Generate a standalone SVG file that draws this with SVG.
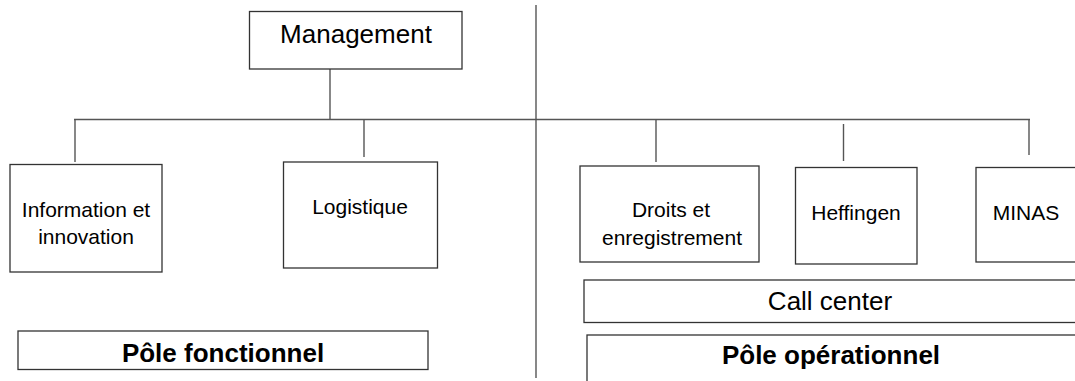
<svg xmlns="http://www.w3.org/2000/svg" width="1075" height="381" viewBox="0 0 1075 381">
<style>
.box{fill:#fff;stroke:#333;stroke-width:1.3}
.ln{stroke:#555;stroke-width:1.4;fill:none}
.t{font-family:"Liberation Sans",Arial,sans-serif;font-size:21px;fill:#000;text-anchor:middle}
.b{font-weight:bold;font-size:26px}
</style>
<rect width="1075" height="381" fill="#fff"/>
<g id="connectors">
<line class="ln" x1="330" y1="69" x2="330" y2="119.5"/>
<line class="ln" x1="74" y1="119.5" x2="1030" y2="119.5"/>
<line class="ln" x1="536" y1="5" x2="536" y2="378"/>
<line class="ln" x1="75" y1="119.5" x2="75" y2="162"/>
<line class="ln" x1="364" y1="119.5" x2="364" y2="157"/>
<line class="ln" x1="656" y1="119.5" x2="656" y2="162"/>
<line class="ln" x1="843.5" y1="124" x2="843.5" y2="161"/>
<line class="ln" x1="1029" y1="119.5" x2="1029" y2="155"/>
</g>
<g id="management">
<rect class="box" x="249.5" y="11.5" width="212.5" height="57.5"/>
<text class="t" x="356" y="43" style="font-size:26px">Management</text>
</g>
<g id="information">
<rect class="box" x="10" y="164.5" width="152" height="107.5"/>
<text class="t" x="86" y="216.5">Information et</text>
<text class="t" x="86" y="244">innovation</text>
</g>
<g id="logistique">
<rect class="box" x="283.5" y="162" width="154" height="106"/>
<text class="t" x="360" y="214">Logistique</text>
</g>
<g id="droits">
<rect class="box" x="580" y="166" width="179" height="96"/>
<text class="t" x="671" y="217">Droits et</text>
<text class="t" x="672" y="245">enregistrement</text>
</g>
<g id="heffingen">
<rect class="box" x="795.5" y="167.5" width="121.5" height="96.5"/>
<text class="t" x="856" y="220">Heffingen</text>
</g>
<g id="minas">
<rect class="box" x="976" y="167.5" width="110" height="94.5"/>
<text class="t" x="1026" y="220">MINAS</text>
</g>
<g id="callcenter">
<rect class="box" x="584" y="280" width="500" height="42.5"/>
<text class="t" x="830" y="310" style="font-size:26px">Call center</text>
</g>
<g id="pole-fonctionnel">
<rect class="box" x="18" y="331" width="410" height="38.5"/>
<text class="t b" x="223" y="362">Pôle fonctionnel</text>
</g>
<g id="pole-operationnel">
<rect class="box" x="587" y="335" width="500" height="60"/>
<text class="t b" x="831" y="364">Pôle opérationnel</text>
</g>
</svg>
